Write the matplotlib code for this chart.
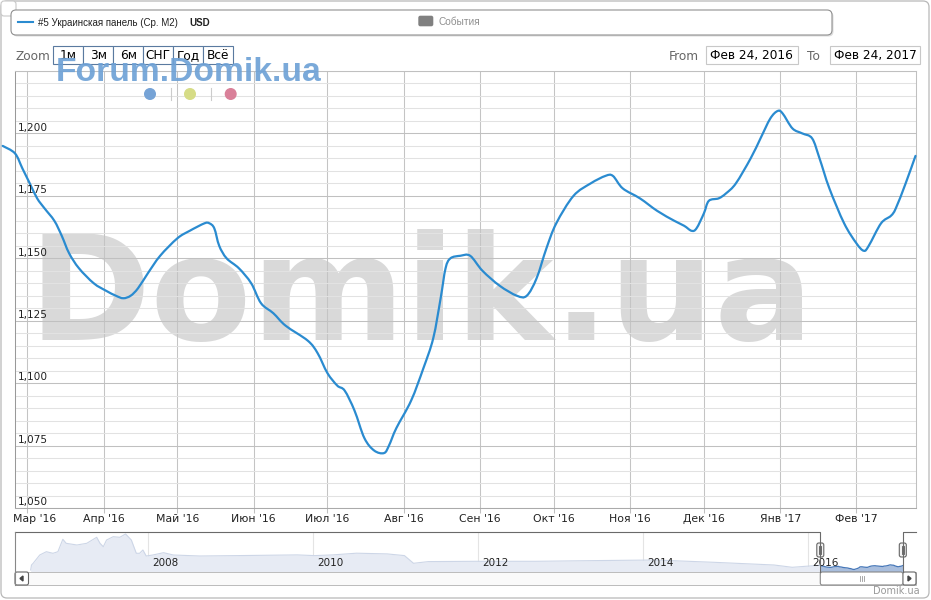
import numpy as np
import matplotlib
matplotlib.use("Agg")
import matplotlib.pyplot as plt
import matplotlib.patches as mpatches
import matplotlib.transforms as mtransforms
import matplotlib.dates as mdates
from matplotlib.path import Path

W, H = 931, 600

# Main series: avg price per m2, USD
DATES = [
    "2016-02-20", "2016-02-25", "2016-02-28", "2016-03-02", "2016-03-05", "2016-03-08",
    "2016-03-12", "2016-03-15", "2016-03-18", "2016-03-22", "2016-03-28", "2016-04-02",
    "2016-04-06", "2016-04-09", "2016-04-12", "2016-04-15", "2016-04-19", "2016-04-24",
    "2016-05-01", "2016-05-06", "2016-05-12", "2016-05-14", "2016-05-16", "2016-05-18",
    "2016-05-21", "2016-05-26", "2016-05-31", "2016-06-04", "2016-06-09", "2016-06-14",
    "2016-06-23", "2016-06-27", "2016-07-01", "2016-07-05", "2016-07-08", "2016-07-12",
    "2016-07-16", "2016-07-20", "2016-07-24", "2016-07-26", "2016-07-29", "2016-08-04",
    "2016-08-09", "2016-08-13", "2016-08-16", "2016-08-18", "2016-08-20", "2016-08-24",
    "2016-08-28", "2016-09-02", "2016-09-09", "2016-09-16", "2016-09-20", "2016-09-24",
    "2016-09-28", "2016-10-02", "2016-10-09", "2016-10-16", "2016-10-22", "2016-10-25",
    "2016-10-29", "2016-11-05", "2016-11-12", "2016-11-19", "2016-11-23", "2016-11-26",
    "2016-11-28", "2016-12-01", "2016-12-03", "2016-12-07", "2016-12-10", "2016-12-14",
    "2016-12-20", "2016-12-24", "2016-12-28", "2016-12-31", "2017-01-02", "2017-01-06",
    "2017-01-10", "2017-01-14", "2017-01-17", "2017-01-21", "2017-01-27", "2017-02-01",
    "2017-02-04", "2017-02-06", "2017-02-11", "2017-02-15", "2017-02-17", "2017-02-21",
    "2017-02-25",
]
PRICE = [
    1195, 1192, 1186, 1180, 1174, 1170, 1165, 1159, 1152, 1146, 1140, 1137,
    1135, 1134, 1135, 1138, 1144, 1151, 1158, 1161, 1164, 1164, 1162, 1155,
    1150, 1146, 1140, 1132, 1128, 1123, 1117, 1112, 1104, 1099, 1097, 1089,
    1078, 1073, 1072, 1075, 1082, 1093, 1106, 1118, 1134, 1146, 1150, 1151,
    1151, 1145, 1139, 1135, 1135, 1142, 1154, 1164, 1175, 1180, 1183, 1183,
    1178, 1174, 1169, 1165, 1163, 1161, 1162, 1168, 1173, 1174, 1176, 1180,
    1190, 1198, 1206, 1209, 1208, 1202, 1200, 1198, 1190, 1178, 1164, 1156,
    1153, 1155, 1164, 1167, 1170, 1180, 1191,
]

MONTH_STARTS = ["2016-03-01", "2016-04-01", "2016-05-01", "2016-06-01", "2016-07-01",
                "2016-08-01", "2016-09-01", "2016-10-01", "2016-11-01", "2016-12-01",
                "2017-01-01", "2017-02-01"]
MONTH_LABELS = ["Мар '16", "Апр '16", "Май '16", "Июн '16", "Июл '16", "Авг '16",
                "Сен '16", "Окт '16", "Ноя '16", "Дек '16", "Янв '17", "Фев '17"]
Y_TICKS = [1050, 1075, 1100, 1125, 1150, 1175, 1200]

# Navigator: full history (decimal years), before the selected range
NAV_YEARS = [2006.58, 2006.59, 2006.61, 2006.69, 2006.77, 2006.85, 2006.91, 2006.97,
             2007.01, 2007.14, 2007.26, 2007.38, 2007.42, 2007.46, 2007.50, 2007.58,
             2007.66, 2007.73, 2007.80, 2007.86, 2007.90, 2007.94, 2007.98, 2008.06,
             2008.19, 2008.31, 2008.63, 2009.09, 2009.81, 2010.02, 2010.24, 2010.53,
             2010.90, 2011.11, 2011.22, 2011.40, 2011.98, 2012.70, 2013.42, 2014.15,
             2014.86, 2015.59, 2015.81, 2016.02]
NAV_PRICE = [1055, 1205, 1256, 1505, 1604, 1556, 1604, 1976,
             1856, 1805, 1856, 2036, 1856, 1754, 1955, 2054,
             2036, 2135, 1955, 1556, 1556, 1655, 1475, 1505,
             1574, 1505, 1475, 1487, 1508, 1487, 1508, 1559,
             1538, 1487, 1256, 1307, 1316, 1316, 1337, 1355,
             1286, 1205, 1136, 1175]
NAV_YEAR_TICKS = [2008, 2010, 2012, 2014, 2016]
SEL_FROM, SEL_TO = 2016.15, 2017.15

LINE = "#2a8bd0"
FONT = "DejaVu Sans"


def fig_rect(x0, y0, x1, y1):
    return [x0 / W, 1 - y1 / H, (x1 - x0) / W, (y1 - y0) / H]


def pixel_axes(fig, z):
    a = fig.add_axes([0, 0, 1, 1], zorder=z)
    a.set_xlim(0, W)
    a.set_ylim(H, 0)
    a.axis("off")
    a.patch.set_alpha(0)
    return a


def rbox(a, x0, y0, x1, y1, r=3, **kw):
    a.add_patch(mpatches.FancyBboxPatch((x0, y0), x1 - x0, y1 - y0,
                                        boxstyle=f"round,pad=0,rounding_size={r}", **kw))


def spline_path(xs, ys):
    # smooth curve through the points (like a Highcharts spline series)
    p = np.column_stack([xs, ys]).astype(float)
    n = len(p)
    verts, codes = [p[0]], [Path.MOVETO]
    for i in range(n - 1):
        p0, p1, p2, p3 = p[max(i - 1, 0)], p[i], p[i + 1], p[min(i + 2, n - 1)]
        verts += [p1 + (p2 - p0) / 6, p2 - (p3 - p1) / 6, p2]
        codes += [Path.CURVE4] * 3
    return Path(verts, codes)


plt.rcParams["font.family"] = [FONT]
fig = plt.figure(figsize=(W / 100, H / 100), dpi=100)

bg = pixel_axes(fig, 0)
over = pixel_axes(fig, 5)

# outer frame and watermark behind the grid
rbox(bg, 1, 1, 929, 598, r=6, fc="white", ec="#b8b8b8", lw=0.9)
rbox(bg, 1, 1, 16, 16, r=3, fc="white", ec="#c8c8c8", lw=0.8)
bg.text(421, 340, "Domik.ua", ha="center", va="baseline", fontsize=106,
        fontweight="bold", color="#d9d9d9")

# ---- main chart ----
ax = fig.add_axes(fig_rect(15, 71, 916, 508), zorder=1)
ax.patch.set_alpha(0)
dates = np.array(DATES, dtype="datetime64[D]")
months = np.array(MONTH_STARTS, dtype="datetime64[D]")
ax.set_xticks(months)
ax.set_xlim(np.datetime64("2016-02-25"), np.datetime64("2017-02-25T05"))
ax.set_ylim(1050, 1225)
ax.add_patch(mpatches.PathPatch(spline_path(mdates.date2num(dates), PRICE), fc="none",
                                ec=LINE, lw=1.6, clip_on=False, zorder=3,
                                joinstyle="round", capstyle="round"))

ax.set_yticks(Y_TICKS + [1225])
ax.set_yticks(np.arange(1050, 1226, 5), minor=True)
ax.grid(axis="x", color="#c4c4c4", lw=0.75)
ax.grid(axis="y", which="major", color="#c0c0c0", lw=0.75)
ax.grid(axis="y", which="minor", color="#e2e2e2", lw=0.75)
ax.set_axisbelow(True)
ax.tick_params(axis="y", which="both", length=0, labelleft=False)
ax.tick_params(axis="x", length=3.6, width=0.75, color="#c0c0c0", labelbottom=False)
for s in ax.spines.values():
    s.set_color("#c0c0c0")
    s.set_linewidth(0.75)
ax.spines["left"].set_color("#999999")
ax.spines["bottom"].set_color("#aaaaaa")

ylab = mtransforms.offset_copy(ax.get_yaxis_transform(), fig=fig, x=2.5, y=5.7, units="dots")
for v in Y_TICKS:
    ax.text(0, v, f"{v:,}", transform=ylab, ha="left", va="center",
            fontsize=7.6, color="#222222")

xlab = mtransforms.offset_copy(ax.get_xaxis_transform(), fig=fig, x=0, y=-11, units="dots")
for i, (m, lbl) in enumerate(zip(months, MONTH_LABELS)):
    if i == 0:
        t0 = mtransforms.offset_copy(ax.transAxes, fig=fig, x=-2, y=-11, units="dots")
        ax.text(0, 0, lbl, transform=t0, ha="left", va="center", fontsize=7.8, color="#222222")
    else:
        ax.text(m, 0, lbl, transform=xlab, ha="center", va="center", fontsize=7.8, color="#222222")

# ---- navigator ----
nav = fig.add_axes(fig_rect(15, 531.5, 916, 571.5), zorder=1)
nav.patch.set_alpha(0)
nav.set_xlim(2006.39, 2017.31)
nav.set_ylim(1010, 2210)
for s in nav.spines.values():
    s.set_visible(False)
nav.set_xticks([])
nav.set_yticks([])
for yr in NAV_YEAR_TICKS:
    nav.axvline(yr, color="#e4e4e4", lw=0.8, zorder=0)
    nav.text(yr, 0.205, str(yr), transform=mtransforms.offset_copy(
        nav.get_xaxis_transform(), fig=fig, x=4, y=0, units="dots"),
        ha="left", va="center", fontsize=7.5, color="#222222", zorder=4)

sel_years = 2016 + (dates - np.datetime64("2016-01-01")).astype(float) / 365.25
nav.fill_between(NAV_YEARS + [sel_years[0]], NAV_PRICE + [PRICE[0]], 1010,
                 color="#e7ebf4", lw=0)
nav.plot(NAV_YEARS + [sel_years[0]], NAV_PRICE + [PRICE[0]], color="#cdd6e7", lw=0.8)
inside = sel_years >= SEL_FROM
outside = sel_years <= SEL_FROM + 0.01
nav.fill_between(sel_years[outside], np.array(PRICE)[outside], 1010, color="#e7ebf4", lw=0)
nav.fill_between(sel_years[inside], np.array(PRICE)[inside], 1010, color="#a9bedd", lw=0)
nav.plot(sel_years[inside], np.array(PRICE)[inside], color="#4677b8", lw=0.9)

# selection handles from navigator scale
to_over = over.transData.inverted()
hx0 = to_over.transform(nav.transData.transform((SEL_FROM, 1010)))[0]
hx1 = to_over.transform(nav.transData.transform((SEL_TO, 1010)))[0]
nl, nr = 15, 916
nt, nb = 531.5, 571.5
oc = "#6a6a6a"
over.plot([nl, hx0, hx0], [nt, nt, nb], color=oc, lw=0.8)
over.plot([hx1, hx1, nr], [nb, nt, nt], color=oc, lw=0.8)
over.plot([nl, nl], [nt, 585], color="#888888", lw=0.8)
for hx in (hx0, hx1):
    rbox(over, hx - 3.5, 543, hx + 3.5, 557, r=2, fc="#f2f2f2", ec="#666666", lw=0.8)
    over.plot([hx - 1, hx - 1], [546, 554], color="#555555", lw=0.6)
    over.plot([hx + 1, hx + 1], [546, 554], color="#555555", lw=0.6)

# scrollbar
over.add_patch(mpatches.Rectangle((15, 572), 901, 13, fc="#fafafa", ec="#bbbbbb", lw=0.7))
rbox(over, 15, 572, 28.5, 585, r=2, fc="white", ec="#666666", lw=0.8)
rbox(over, hx1, 572, 916, 585, r=2, fc="white", ec="#666666", lw=0.8)
rbox(over, hx0, 572, hx1, 585, r=2, fc="white", ec="#888888", lw=0.8)
over.add_patch(mpatches.Polygon([[23, 576], [23, 581], [20, 578.5]], color="#444444"))
over.add_patch(mpatches.Polygon([[908, 576], [908, 581], [911, 578.5]], color="#444444"))
gx = (hx0 + hx1) / 2
for dx in (-2, 0, 2):
    over.plot([gx + dx, gx + dx], [576, 581], color="#999999", lw=0.6)
over.text(920, 591.5, "Domik.ua", ha="right", va="center", fontsize=7, color="#999999")

# ---- legend bar ----
rbox(over, 12.5, 11.5, 833.5, 36.5, r=5, fc="#dddddd", ec="none")
rbox(over, 11, 10, 832, 35, r=5, fc="white", ec="#909090", lw=0.8)
over.plot([18.3, 33.3], [22.3, 22.3], color=LINE, lw=1.5)
over.text(38.5, 22.5, "#5 Украинская панель (Ср. М2) ", ha="left", va="center",
          fontsize=7.0, color="#222222", family="Liberation Sans")
over.text(189.3, 22.5, "USD", ha="left", va="center", fontsize=7.0, fontweight="bold",
          color="#222222", family="Liberation Sans")
rbox(over, 418.3, 15.7, 433.3, 26.3, r=2, fc="#808080", ec="none")
over.text(438.7, 22, "События", ha="left", va="center", fontsize=7.3, color="#909090",
          family="Liberation Sans")

# ---- range selector ----
over.text(15.3, 56.5, "Zoom", ha="left", va="center", fontsize=8.7, color="#666666")
edges = [53.3, 83.3, 113.3, 143.3, 173.3, 203.3, 233.3]
for lbl, a, b in zip(["1м", "3м", "6м", "СНГ", "Год", "Всё"], edges[:-1], edges[1:]):
    over.add_patch(mpatches.Rectangle((a, 46.3), b - a, 17.7, fc="white", ec="#5a7aa0", lw=0.8))
    over.text((a + b) / 2, 55.6, lbl, ha="center", va="center", fontsize=8.7, color="black")

over.text(699, 56.5, "From", ha="right", va="center", fontsize=8.7, color="#666666")
over.add_patch(mpatches.Rectangle((705.7, 46.3), 92, 17.7, fc="white", ec="#c8c8c8", lw=0.8))
over.text(751.7, 55.6, "Фев 24, 2016", ha="center", va="center", fontsize=8.7, color="black")
over.text(820, 56.5, "To", ha="right", va="center", fontsize=8.7, color="#666666")
over.add_patch(mpatches.Rectangle((829.7, 46.3), 90.6, 17.7, fc="white", ec="#c8c8c8", lw=0.8))
over.text(875, 55.6, "Фев 24, 2017", ha="center", va="center", fontsize=8.7, color="black")

# ---- forum watermark ----
over.text(55.5, 80.7, "Forum.Domik.ua", ha="left", va="baseline", fontsize=24.2,
          fontweight="bold", color="#6fa2d6", alpha=0.92, family="Liberation Sans")
for x, c in [(150, "#76a3d6"), (190, "#d6dc86"), (230.7, "#d98099")]:
    over.add_patch(mpatches.Circle((x, 94), 5.3, color=c))
for x in (170.7, 210.7):
    over.plot([x, x], [88, 100], color="#cccccc", lw=0.8)

fig.savefig("out.png", dpi=100)
